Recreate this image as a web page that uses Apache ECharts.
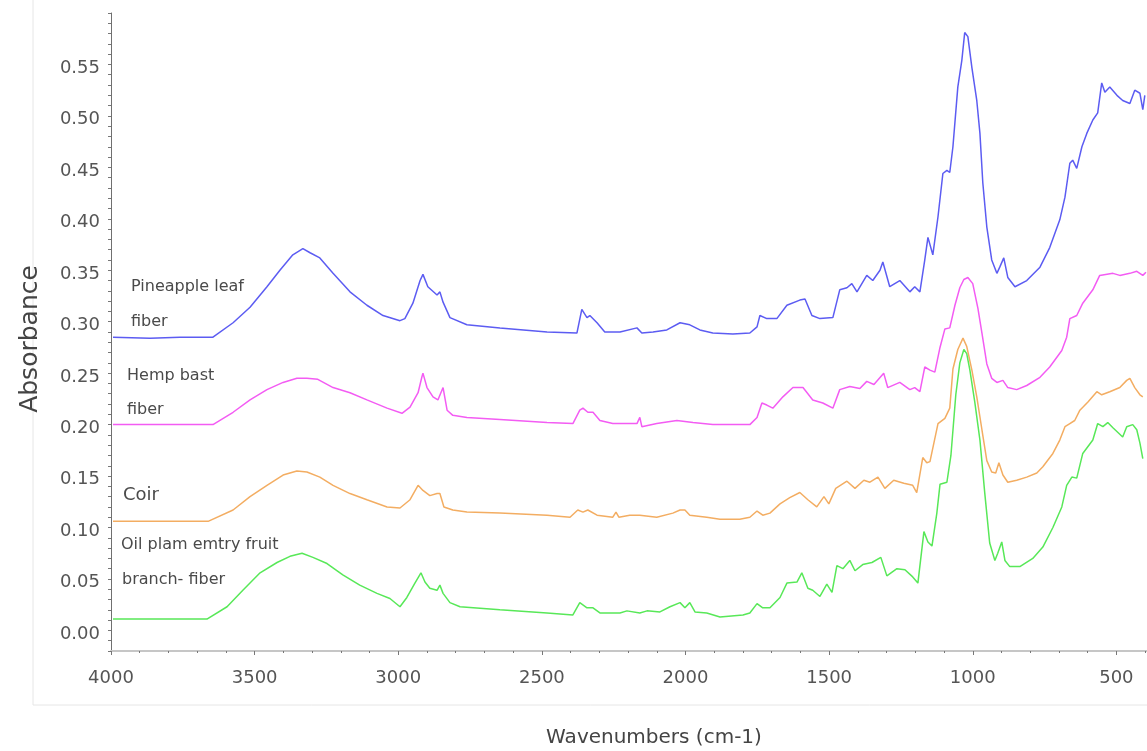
<!DOCTYPE html>
<html>
<head>
<meta charset="utf-8">
<script src="https://cdn.jsdelivr.net/npm/echarts@6/dist/echarts.min.js"></script>
<style>
  html, body { margin: 0; padding: 0; background: #ffffff; }
  #chart { width: 1147px; height: 751px; }
</style>
</head>
<body>
<div id="chart"></div>
<script>
// FTIR absorbance spectra, [wavenumber (cm-1), absorbance]
const pineappleLeaf = [
  [3993,0.275],[3864,0.274],[3760,0.275],[3645,0.275],[3575,0.289],[3516,0.304],[3457,0.324],[3412,0.340],
  [3367,0.355],[3332,0.361],[3307,0.357],[3273,0.352],[3227,0.337],[3168,0.319],[3109,0.306],[3053,0.296],
  [2994,0.291],[2977,0.293],[2949,0.308],[2924,0.330],[2914,0.336],[2897,0.324],[2865,0.316],[2855,0.319],
  [2844,0.309],[2820,0.294],[2761,0.287],[2646,0.284],[2482,0.280],[2378,0.279],[2361,0.302],[2343,0.294],
  [2333,0.296],[2308,0.289],[2281,0.280],[2228,0.280],[2169,0.284],[2152,0.279],[2113,0.280],[2065,0.282],
  [2019,0.289],[1985,0.287],[1950,0.282],[1905,0.279],[1835,0.278],[1776,0.279],[1751,0.285],[1741,0.296],
  [1717,0.293],[1682,0.293],[1647,0.306],[1602,0.311],[1584,0.312],[1560,0.296],[1532,0.293],[1487,0.294],
  [1463,0.321],[1438,0.323],[1421,0.327],[1403,0.319],[1369,0.335],[1348,0.330],[1323,0.340],[1313,0.348],
  [1289,0.324],[1254,0.330],[1219,0.319],[1202,0.324],[1184,0.319],[1167,0.350],[1156,0.372],[1139,0.355],
  [1121,0.392],[1104,0.434],[1090,0.437],[1080,0.435],[1069,0.460],[1052,0.518],[1038,0.544],[1028,0.571],
  [1017,0.567],[1003,0.537],[986,0.505],[975,0.473],[965,0.425],[951,0.382],[934,0.350],[916,0.337],
  [906,0.343],[892,0.352],[878,0.333],[853,0.324],[812,0.330],[766,0.343],[732,0.362],[697,0.389],
  [679,0.411],[662,0.444],[652,0.447],[638,0.439],[620,0.460],[603,0.473],[582,0.486],[565,0.493],
  [551,0.522],[540,0.513],[523,0.518],[498,0.510],[478,0.505],[453,0.502],[436,0.515],[418,0.512],
  [408,0.496],[401,0.510]
];

const hempBast = [
  [3993,0.190],[3645,0.190],[3575,0.202],[3516,0.214],[3457,0.224],[3401,0.231],[3353,0.235],[3318,0.235],
  [3280,0.234],[3227,0.226],[3168,0.221],[3109,0.214],[3039,0.206],[2987,0.201],[2959,0.207],[2931,0.221],
  [2918,0.236],[2914,0.240],[2900,0.226],[2879,0.217],[2862,0.214],[2844,0.226],[2830,0.204],[2810,0.199],
  [2761,0.197],[2646,0.195],[2482,0.192],[2392,0.191],[2368,0.204],[2357,0.206],[2340,0.202],[2322,0.202],
  [2298,0.194],[2253,0.191],[2169,0.191],[2159,0.197],[2152,0.188],[2100,0.191],[2030,0.194],[1974,0.192],
  [1905,0.190],[1776,0.190],[1751,0.197],[1734,0.211],[1717,0.209],[1696,0.206],[1661,0.217],[1626,0.226],
  [1591,0.226],[1557,0.214],[1522,0.211],[1487,0.206],[1463,0.224],[1428,0.227],[1393,0.225],[1369,0.232],
  [1344,0.229],[1310,0.240],[1296,0.226],[1254,0.231],[1219,0.224],[1202,0.226],[1184,0.222],[1167,0.246],
  [1149,0.243],[1132,0.241],[1114,0.265],[1097,0.283],[1080,0.284],[1062,0.306],[1045,0.323],[1031,0.331],
  [1017,0.333],[1000,0.327],[982,0.303],[968,0.279],[951,0.249],[934,0.235],[916,0.231],[895,0.233],
  [878,0.226],[847,0.224],[812,0.228],[766,0.236],[732,0.246],[690,0.262],[673,0.275],[662,0.293],
  [638,0.296],[617,0.308],[582,0.321],[558,0.335],[512,0.337],[488,0.335],[453,0.337],[429,0.339],
  [408,0.335],[397,0.338]
];

const coir = [
  [3993,0.096],[3662,0.096],[3575,0.107],[3516,0.120],[3457,0.131],[3401,0.141],[3353,0.145],[3318,0.144],
  [3273,0.139],[3227,0.131],[3168,0.123],[3109,0.117],[3039,0.110],[2994,0.109],[2959,0.117],[2931,0.131],
  [2914,0.126],[2890,0.121],[2865,0.123],[2855,0.123],[2841,0.110],[2810,0.107],[2761,0.105],[2646,0.104],
  [2482,0.102],[2402,0.100],[2375,0.107],[2357,0.105],[2340,0.107],[2308,0.102],[2253,0.100],[2242,0.105],
  [2232,0.100],[2194,0.102],[2159,0.102],[2100,0.100],[2044,0.104],[2019,0.107],[2002,0.107],[1985,0.102],
  [1926,0.100],[1880,0.098],[1811,0.098],[1776,0.100],[1751,0.106],[1731,0.102],[1706,0.104],[1671,0.113],
  [1637,0.119],[1602,0.124],[1574,0.117],[1543,0.110],[1518,0.120],[1501,0.113],[1477,0.128],[1438,0.135],
  [1410,0.128],[1379,0.136],[1358,0.134],[1330,0.139],[1306,0.128],[1275,0.136],[1240,0.133],[1209,0.131],
  [1195,0.124],[1174,0.158],[1160,0.153],[1149,0.154],[1121,0.191],[1097,0.196],[1080,0.206],[1069,0.244],
  [1052,0.263],[1034,0.274],[1021,0.266],[1003,0.243],[986,0.217],[968,0.185],[951,0.155],[934,0.144],
  [920,0.143],[909,0.153],[895,0.141],[878,0.134],[847,0.136],[812,0.139],[777,0.143],[756,0.149],
  [721,0.162],[697,0.175],[679,0.188],[662,0.191],[645,0.194],[627,0.204],[599,0.212],[568,0.222],
  [551,0.219],[523,0.222],[488,0.226],[464,0.233],[453,0.235],[436,0.226],[418,0.219],[408,0.217]
];

const oilPalmEfb = [
  [3993,0.001],[3666,0.001],[3596,0.013],[3541,0.029],[3481,0.046],[3422,0.056],[3377,0.062],[3335,0.065],
  [3297,0.061],[3248,0.055],[3193,0.044],[3134,0.034],[3074,0.026],[3029,0.021],[2994,0.013],[2970,0.022],
  [2942,0.036],[2921,0.046],[2907,0.037],[2890,0.031],[2865,0.029],[2855,0.034],[2844,0.026],[2820,0.017],
  [2785,0.013],[2646,0.010],[2482,0.007],[2392,0.005],[2368,0.017],[2343,0.012],[2322,0.012],[2298,0.007],
  [2228,0.007],[2204,0.009],[2159,0.007],[2134,0.009],[2089,0.008],[2054,0.013],[2019,0.017],[2002,0.012],
  [1985,0.017],[1967,0.008],[1926,0.007],[1880,0.003],[1800,0.005],[1776,0.007],[1751,0.016],[1731,0.012],
  [1706,0.012],[1671,0.022],[1647,0.036],[1612,0.037],[1595,0.046],[1574,0.031],[1557,0.029],[1532,0.023],
  [1508,0.035],[1490,0.027],[1473,0.053],[1452,0.050],[1428,0.058],[1410,0.048],[1383,0.054],[1351,0.056],
  [1320,0.061],[1299,0.043],[1264,0.050],[1236,0.049],[1209,0.042],[1191,0.036],[1170,0.086],[1156,0.076],
  [1142,0.072],[1125,0.104],[1114,0.132],[1090,0.134],[1076,0.160],[1059,0.219],[1045,0.250],[1031,0.263],
  [1021,0.259],[1010,0.243],[993,0.212],[975,0.175],[958,0.123],[941,0.075],[923,0.058],[913,0.065],
  [899,0.076],[888,0.058],[871,0.052],[836,0.052],[791,0.060],[756,0.071],[721,0.090],[690,0.110],
  [673,0.131],[655,0.139],[638,0.138],[617,0.162],[582,0.175],[565,0.191],[547,0.188],[530,0.192],
  [512,0.187],[478,0.178],[464,0.188],[443,0.190],[429,0.185],[418,0.172],[408,0.157]
];

const seriesNames = ['Pineapple leaf fiber', 'Hemp bast fiber', 'Coir', 'Oil plam emtry fruit branch- fiber'];
const seriesData = [pineappleLeaf, hempBast, coir, oilPalmEfb];
const seriesColors = ['#5c5cf2', '#f35cf3', '#f3ad62', '#58e858'];

// Curve captions, one entry per text line
const captionLines = [
  { text: 'Pineapple leaf', x: 131, y: 287, size: 16 },
  { text: 'fiber', x: 131, y: 322, size: 16 },
  { text: 'Hemp bast', x: 127, y: 376, size: 16 },
  { text: 'fiber', x: 127, y: 410, size: 16 },
  { text: 'Coir', x: 123, y: 495, size: 18 },
  { text: 'Oil plam emtry fruit', x: 121, y: 545, size: 16 },
  { text: 'branch- fiber', x: 122, y: 580, size: 16 }
];

const xAxisTitle = 'Wavenumbers (cm-1)';
const yAxisTitle = 'Absorbance';

const FONT = 'DejaVu Sans';
const chart = echarts.init(document.getElementById('chart'), null, { renderer: 'canvas' });

// The wavenumber axis runs on past the right edge of the page (down to 0 cm-1)
const plotRect = { left: 111, top: 13, right: -113, bottom: 100, containLabel: false, outerBoundsMode: 'none' };

const option = {
  animation: false,
  backgroundColor: '#ffffff',
  grid: [
    Object.assign({}, plotRect),
    Object.assign({}, plotRect),
    { left: 33, top: -10, right: -10, bottom: 46, show: true, borderColor: '#e6e6e6', borderWidth: 1,
      backgroundColor: 'transparent', containLabel: false, outerBoundsMode: 'none' }
  ],
  xAxis: [
    {
      gridIndex: 0, type: 'value', inverse: true, min: 0, max: 4000, interval: 500,
      axisLine: { show: true, onZero: false, lineStyle: { color: '#c6c6c6', width: 2 } },
      axisTick: { show: true, length: 4, lineStyle: { color: '#777777', width: 1 } },
      minorTick: { show: true, splitNumber: 5, length: 2, lineStyle: { color: '#777777', width: 1 } },
      axisLabel: { margin: 18, fontFamily: FONT, fontSize: 18, color: '#555555', formatter: (v) => String(v) },
      splitLine: { show: false }
    },
    { gridIndex: 1, type: 'value', show: false, inverse: true, min: 0, max: 4000 },
    { gridIndex: 2, type: 'value', show: false, min: 0, max: 1 }
  ],
  yAxis: [
    {
      gridIndex: 0, type: 'value', min: -0.03, max: 0.59, interval: 0.01,
      axisLine: { show: true, onZero: false, lineStyle: { color: '#707070', width: 1 } },
      axisTick: { show: true, length: 3, lineStyle: { color: '#777777', width: 1 } },
      axisLabel: { show: false },
      splitLine: { show: false }
    },
    {
      gridIndex: 1, type: 'value', min: -0.03, max: 0.59, splitNumber: 12,
      axisLine: { show: false },
      axisTick: { show: true, length: 6, lineStyle: { color: '#777777', width: 1 } },
      axisLabel: {
        showMinLabel: false, showMaxLabel: false,
        margin: 11, fontFamily: FONT, fontSize: 18, color: '#555555',
        verticalAlign: 'top', padding: [5, 0, 0, 0],
        formatter: (v) => v.toFixed(2)
      },
      splitLine: { show: false }
    },
    { gridIndex: 2, type: 'value', show: false, min: 0, max: 1 }
  ],
  series: seriesData.map((data, i) => ({
    name: seriesNames[i],
    type: 'line',
    xAxisIndex: 0,
    yAxisIndex: 0,
    data: data,
    showSymbol: false,
    symbol: 'none',
    smooth: false,
    clip: true,
    lineStyle: { color: seriesColors[i], width: 1.5 },
    emphasis: { disabled: true }
  })),
  graphic: [
    ...captionLines.map((c) => ({
      type: 'text', x: c.x, y: c.y, silent: true,
      style: { text: c.text, fill: '#4a4a4a', font: c.size + 'px "' + FONT + '"', verticalAlign: 'middle', align: 'left' }
    })),
    {
      type: 'text', x: 654, y: 738, silent: true,
      style: { text: xAxisTitle, fill: '#444444', font: '20px "' + FONT + '"', align: 'center', verticalAlign: 'middle' }
    },
    {
      type: 'text', x: 30, y: 339, rotation: Math.PI / 2, silent: true,
      style: { text: yAxisTitle, fill: '#444444', font: '25px "' + FONT + '"', align: 'center', verticalAlign: 'middle' }
    }
  ]
};

chart.setOption(option);
</script>
</body>
</html>
